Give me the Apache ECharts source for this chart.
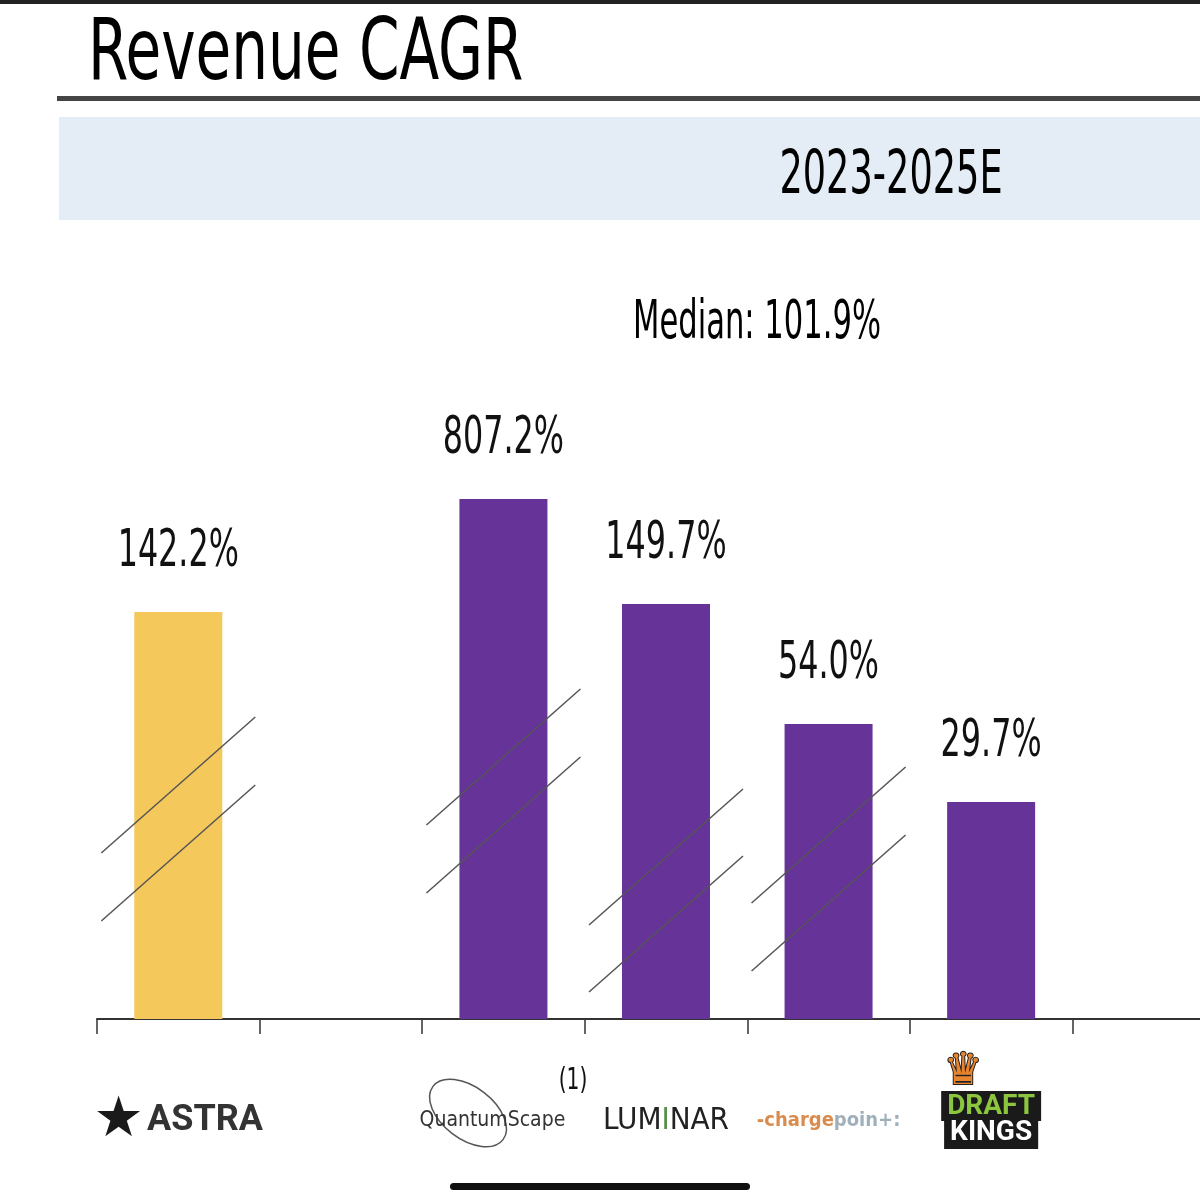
<!DOCTYPE html>
<html>
<head>
<meta charset="utf-8">
<script src="https://cdn.jsdelivr.net/npm/echarts@6/dist/echarts.min.js"></script>
<style>
  html, body { margin: 0; padding: 0; background: #fff; }
  #chart { width: 1200px; height: 1200px; }
</style>
</head>
<body>
<div id="chart"></div>
<script>
// categories (two empty slots keep the gaps seen in the slide)
var companies = ['astra', 'gap1', 'quantumscape', 'luminar', 'chargepoint', 'draftkings', 'gap2']
// CAGR labels as printed
var cagrLabels = ['142.2%', '', '807.2%', '149.7%', '54.0%', '29.7%', '']
// drawn bar heights (axis is broken, so heights are not to scale)
var barHeights = [407, null, 520, 415, 295, 217, null]
// break marks (pairs of slashes): [category index, lower slash, upper slash]
var breakMarks = [
  [0, 166, 234],
  [2, 194, 262],
  [3, 95, 162],
  [4, 116, 184]
]
var medianText = 'Median: 101.9%'
var periodText = '2023-2025E'

var FONT = '"DejaVu Sans Condensed", "Liberation Sans Narrow", sans-serif'
var YELLOW = '#f5c85c'
var PURPLE = '#663399'

var chart = echarts.init(document.getElementById('chart'))

var barData = barHeights.map(function (v, i) {
  if (v === null) return null
  return { value: v, itemStyle: { color: i === 0 ? YELLOW : PURPLE } }
})

var labelData = []
barHeights.forEach(function (v, i) {
  if (v !== null) labelData.push([i, v, cagrLabels[i]])
})

var slashData = []
breakMarks.forEach(function (b) {
  slashData.push([b[0], b[1]])
  slashData.push([b[0], b[2]])
})

chart.setOption({
  animation: false,
  backgroundColor: '#fff',
  grid: {
    left: 97,
    right: -35,
    top: 19,
    bottom: 181,
    outerBoundsMode: 'none'
  },
  xAxis: {
    type: 'category',
    data: companies,
    axisLine: { lineStyle: { color: '#333', width: 2 } },
    axisTick: { show: true, length: 15, lineStyle: { color: '#333', width: 1.5 } },
    axisLabel: {
      margin: 102,
      interval: 0,
      verticalAlign: 'middle',
      formatter: function (v) {
        if (v === 'astra') return '{star|★} {astra|ASTRA}'
        if (v === 'quantumscape') return '{qs|QuantumScape}'
        if (v === 'luminar') return '{lum|LUM}{lumI|I}{lum|NAR}'
        if (v === 'chargepoint') return '{cpA|-charge}{cpB|poin+:}'
        if (v === 'draftkings') return '{crown|♛}\n{dk1|DRAFT}\n{dk2|KINGS}\n{dkPad| }'
        return ''
      },
      rich: {
        star: { fontSize: 56, color: '#1a1a1a', fontFamily: 'DejaVu Sans' },
        astra: { fontSize: 36, fontWeight: 'bold', color: '#333', fontFamily: 'Roboto, sans-serif' },
        qs: { fontSize: 21, color: '#333', fontFamily: FONT, padding: [0, 22, 0, 0] },
        lum: { fontSize: 31, color: '#222', fontFamily: FONT },
        lumI: { fontSize: 31, color: '#5a8f4a', fontFamily: FONT },
        cpA: { fontSize: 20, fontWeight: 'bold', color: '#d98c4e', fontFamily: FONT },
        cpB: { fontSize: 20, fontWeight: 'bold', color: '#9fb0bb', fontFamily: FONT },
        crown: { fontSize: 44, color: '#e8852f', fontFamily: 'DejaVu Sans', padding: [0, 56, 0, 0],
          lineHeight: 38, textBorderColor: '#222', textBorderWidth: 2 },
        dk1: { fontSize: 28, fontWeight: 'bold', color: '#8cc63f', fontFamily: 'Roboto, sans-serif',
          backgroundColor: '#1a1a1a', padding: [2, 6, 0, 6], lineHeight: 28 },
        dk2: { fontSize: 28, fontWeight: 'bold', color: '#fff', fontFamily: 'Roboto, sans-serif',
          backgroundColor: '#1a1a1a', padding: [0, 6, 2, 6], lineHeight: 28 },
        dkPad: { fontSize: 10, lineHeight: 40 }
      }
    }
  },
  yAxis: {
    type: 'value',
    min: 0,
    max: 1000,
    show: false
  },
  series: [
    {
      type: 'bar',
      data: barData,
      barWidth: 88
    },
    {
      // value labels, narrowed to look like the condensed slide font
      type: 'custom',
      data: labelData,
      z: 6,
      renderItem: function (params, api) {
        var c = api.coord([api.value(0), api.value(1)])
        return {
          type: 'text',
          x: c[0],
          y: c[1] - 60,
          scaleX: 0.68,
          style: {
            text: labelData[params.dataIndex][2],
            font: '52px ' + FONT,
            fill: '#111',
            align: 'center',
            verticalAlign: 'middle'
          }
        }
      }
    },
    {
      type: 'custom',
      data: slashData,
      z: 5,
      renderItem: function (params, api) {
        var c = api.coord([api.value(0), api.value(1)])
        return {
          type: 'line',
          shape: { x1: c[0] - 77, y1: c[1] + 68, x2: c[0] + 77, y2: c[1] - 68 },
          style: { stroke: '#555', lineWidth: 1.5 }
        }
      }
    }
  ],
  graphic: [
    { type: 'rect', shape: { x: 0, y: 0, width: 1200, height: 4 }, style: { fill: '#222' } },
    { type: 'text', x: 88, y: 57, scaleX: 0.75,
      style: { text: 'Revenue CAGR', font: '86px ' + FONT, fill: '#000', verticalAlign: 'middle' } },
    { type: 'rect', shape: { x: 57, y: 96, width: 1143, height: 5 }, style: { fill: '#444' } },
    { type: 'rect', shape: { x: 59, y: 117, width: 1141, height: 103 }, style: { fill: '#e4ecf5' } },
    { type: 'text', x: 891, y: 177, scaleX: 0.68,
      style: { text: periodText, font: '60px ' + FONT, fill: '#000', align: 'center', verticalAlign: 'middle' } },
    { type: 'text', x: 757, y: 324, scaleX: 0.63,
      style: { text: medianText, font: '54px ' + FONT, fill: '#000', align: 'center', verticalAlign: 'middle' } },
    // QuantumScape swoosh
    { type: 'ellipse', x: 468, y: 1113, rotation: -0.65, z: -1,
      shape: { cx: 0, cy: 0, rx: 44, ry: 26 },
      style: { fill: 'none', stroke: '#555', lineWidth: 1.5 } },
    { type: 'text', x: 573, y: 1081, scaleX: 0.75,
      style: { text: '(1)', font: '30px ' + FONT, fill: '#111', align: 'center', verticalAlign: 'middle' } },
    { type: 'rect', shape: { x: 450, y: 1183, width: 300, height: 7, r: 4 }, style: { fill: '#111' } }
  ]
})
</script>
</body>
</html>
